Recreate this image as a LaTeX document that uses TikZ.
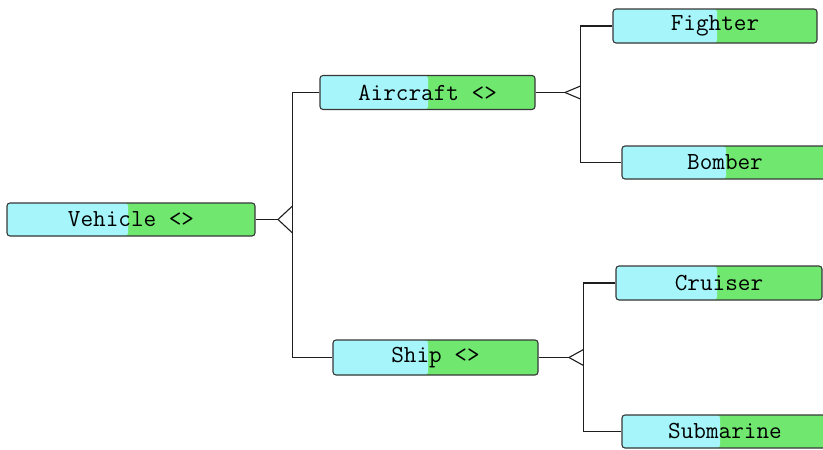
\documentclass[tikz,border=0pt]{standalone}
\usepackage{fontspec}
\definecolor{cyanc}{RGB}{165,245,250}
\definecolor{greenc}{RGB}{112,232,112}
\definecolor{boxline}{RGB}{55,55,55}
\definecolor{wire}{RGB}{30,30,30}
\begin{document}
\begin{tikzpicture}[x=1pt,y=-1pt,
  box/.style={draw=boxline, line width=1.1pt, rounded corners=3pt, fill=greenc,
    inner sep=0pt, font=\ttfamily\fontsize{24.5}{24.5}\selectfont,
    path picture={\fill[cyanc] (path picture bounding box.south west) rectangle ([xshift=#1]path picture bounding box.north west);}},
  wireline/.style={draw=wire, line width=1.1pt}]
\useasboundingbox (0,0) rectangle (823,450);

\node[box=121, minimum width=248pt, minimum height=33pt] (v) at (131,219.5) {Vehicle <>};
\node[box=108, minimum width=215pt, minimum height=34pt] (a) at (427.5,92.5) {Aircraft <>};
\node[box=95, minimum width=205pt, minimum height=35pt] (s) at (435.5,357.5) {Ship <>};
\node[box=104, minimum width=204pt, minimum height=34pt] (f) at (715,26) {Fighter};
\node[box=104, minimum width=206pt, minimum height=33pt] (b) at (725,162.5) {Bomber};
\node[box=101, minimum width=206pt, minimum height=34pt] (c) at (719,283) {Cruiser};
\node[box=98, minimum width=206pt, minimum height=33pt] (sub) at (725,431.5) {Submarine};

% Vehicle generalization
\coordinate (vj) at (278,219.5);
\coordinate (vbar) at (292.5,219.5);
\draw[wireline] (v.east) -- (vj);
\draw[wireline] (vj) -- ++(14.5,-13.5);
\draw[wireline] (vj) -- ++(14.5,13.5);
\draw[wireline] (a.west) -- (a.west -| vbar) -- (s.west -| vbar) -- (s.west);

% Aircraft generalization
\coordinate (aj) at (565,92.5);
\coordinate (abar) at (580.5,92.5);
\draw[wireline] (a.east) -- (aj);
\draw[wireline] (aj) -- ++(15.5,-6.5);
\draw[wireline] (aj) -- ++(15.5,6.5);
\draw[wireline] (f.west) -- (f.west -| abar) -- (b.west -| abar) -- (b.west);

% Ship generalization
\coordinate (sj) at (569,357.5);
\coordinate (sbar) at (583.5,357.5);
\draw[wireline] (s.east) -- (sj);
\draw[wireline] (sj) -- ++(14.5,-8);
\draw[wireline] (sj) -- ++(14.5,8);
\draw[wireline] (c.west) -- (c.west -| sbar) -- (sub.west -| sbar) -- (sub.west);
\end{tikzpicture}
\end{document}
